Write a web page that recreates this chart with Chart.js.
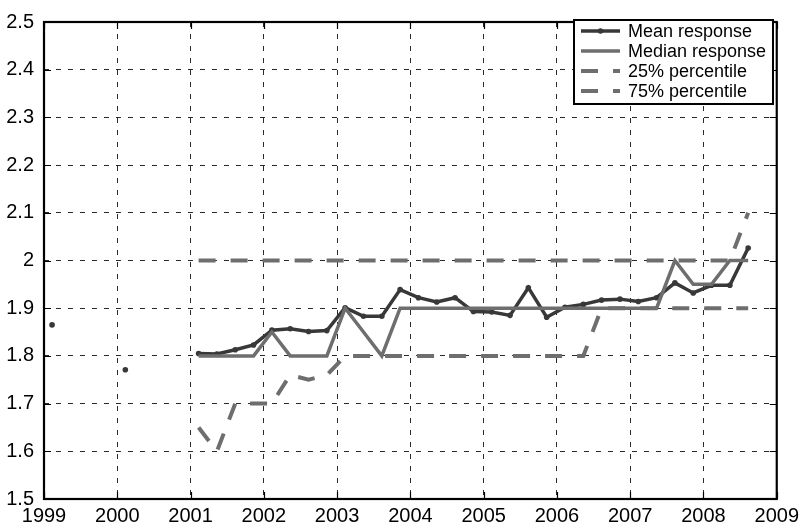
<!DOCTYPE html>
<html>
<head>
<meta charset="utf-8">
<script src="https://cdn.jsdelivr.net/npm/chart.js@4.4.0/dist/chart.umd.min.js"></script>
<style>
  html, body { margin: 0; padding: 0; background: #fff; }
  #wrap { width: 804px; height: 530px; }
</style>
</head>
<body>
<div id="wrap"><canvas id="chart" width="804" height="530"></canvas></div>
<script>
// Survey quarters, as decimal years
const quarters = [
  1999.11, 1999.36, 1999.61, 1999.86,
  2000.11, 2000.36, 2000.61, 2000.86,
  2001.11, 2001.36, 2001.61, 2001.86,
  2002.11, 2002.36, 2002.61, 2002.86,
  2003.11, 2003.36, 2003.61, 2003.86,
  2004.11, 2004.36, 2004.61, 2004.86,
  2005.11, 2005.36, 2005.61, 2005.86,
  2006.11, 2006.36, 2006.61, 2006.86,
  2007.11, 2007.36, 2007.61, 2007.86,
  2008.11, 2008.36, 2008.61
];

// Quarterly summary statistics of the response (null = no survey that quarter)
const meanResponse = [
  1.865, null, null, null,
  1.771, null, null, null,
  1.805, 1.804, 1.813, 1.823,
  1.854, 1.857, 1.851, 1.853,
  1.901, 1.883, 1.883, 1.939,
  1.922, 1.913, 1.922, 1.893,
  1.892, 1.885, 1.943, 1.881,
  1.902, 1.908, 1.917, 1.919,
  1.914, 1.922, 1.953, 1.932,
  1.948, 1.948, 2.026
];
const medianResponse = [
  null, null, null, null,
  null, null, null, null,
  1.80, 1.80, 1.80, 1.80,
  1.85, 1.80, 1.80, 1.80,
  1.90, 1.85, 1.80, 1.90,
  1.90, 1.90, 1.90, 1.90,
  1.90, 1.90, 1.90, 1.90,
  1.90, 1.90, 1.90, 1.90,
  1.90, 1.90, 2.00, 1.95,
  1.95, 2.00, 2.00
];
const percentile25 = [
  null, null, null, null,
  null, null, null, null,
  1.65, 1.60, 1.70, 1.70,
  1.70, 1.76, 1.75, 1.76,
  1.80, 1.80, 1.80, 1.80,
  1.80, 1.80, 1.80, 1.80,
  1.80, 1.80, 1.80, 1.80,
  1.80, 1.80, 1.90, 1.90,
  1.90, 1.90, 1.90, 1.90,
  1.90, 1.90, 1.90
];
const percentile75 = [
  null, null, null, null,
  null, null, null, null,
  2.00, 2.00, 2.00, 2.00,
  2.00, 2.00, 2.00, 2.00,
  2.00, 2.00, 2.00, 2.00,
  2.00, 2.00, 2.00, 2.00,
  2.00, 2.00, 2.00, 2.00,
  2.00, 2.00, 2.00, 2.00,
  2.00, 2.00, 2.00, 2.00,
  2.00, 2.00, 2.10
];

const seriesLabels = ['Mean response', 'Median response', '25% percentile', '75% percentile'];

const FONT = "'Liberation Sans', Arial, Helvetica, sans-serif";
const DARK = '#383838';
const GREY = '#6e6e6e';

const toPoints = values => quarters.map((q, i) => ({ x: q, y: values[i] }));

// Axis box with inward tick marks on all four sides
const framePlugin = {
  id: 'frame',
  afterDatasetsDraw(chart) {
    const { ctx, chartArea: a, scales } = chart;
    const tick = 7;
    ctx.save();
    ctx.strokeStyle = '#000';
    ctx.lineWidth = 1.2;
    ctx.beginPath();
    scales.x.ticks.forEach(t => {
      const px = Math.round(scales.x.getPixelForValue(t.value)) + 0.5;
      ctx.moveTo(px, a.bottom); ctx.lineTo(px, a.bottom - tick);
      ctx.moveTo(px, a.top); ctx.lineTo(px, a.top + tick);
    });
    scales.y.ticks.forEach(t => {
      const py = Math.round(scales.y.getPixelForValue(t.value)) + 0.5;
      ctx.moveTo(a.left, py); ctx.lineTo(a.left + tick, py);
      ctx.moveTo(a.right, py); ctx.lineTo(a.right - tick, py);
    });
    ctx.stroke();
    ctx.lineWidth = 2.2;
    ctx.strokeRect(a.left, a.top, a.right - a.left, a.bottom - a.top);
    ctx.restore();
  }
};

// Framed legend in the upper-right corner of the plot
const boxedLegendPlugin = {
  id: 'boxedLegend',
  afterDraw(chart, args, opts) {
    const { ctx } = chart;
    const { left, top, width, height, rowTop, rowGap, sampleStart, sampleEnd, textX } = opts;
    ctx.save();
    ctx.fillStyle = '#fff';
    ctx.fillRect(left, top, width, height);
    ctx.strokeStyle = '#000';
    ctx.lineWidth = 2;
    ctx.strokeRect(left, top, width, height);
    chart.data.datasets.forEach((ds, i) => {
      const y = top + rowTop + i * rowGap;
      ctx.save();
      ctx.strokeStyle = ds.borderColor;
      ctx.lineWidth = ds.borderWidth;
      ctx.lineCap = 'butt';
      ctx.setLineDash(ds.borderDash || []);
      ctx.beginPath();
      ctx.moveTo(left + sampleStart, y);
      ctx.lineTo(left + sampleEnd, y);
      ctx.stroke();
      if (ds.pointRadius > 0) {
        ctx.fillStyle = ds.borderColor;
        ctx.beginPath();
        ctx.arc(left + (sampleStart + sampleEnd) / 2, y, ds.pointRadius, 0, Math.PI * 2);
        ctx.fill();
      }
      ctx.restore();
      ctx.fillStyle = '#000';
      ctx.font = '18px ' + FONT;
      ctx.textBaseline = 'middle';
      ctx.textAlign = 'left';
      ctx.fillText(ds.label, left + textX, y + 1);
    });
    ctx.restore();
  }
};

new Chart(document.getElementById('chart'), {
  type: 'line',
  data: {
    datasets: [
      {
        label: seriesLabels[0], data: toPoints(meanResponse),
        borderColor: DARK, backgroundColor: DARK, borderWidth: 3.5,
        pointRadius: 2.8, pointBorderWidth: 0, pointBackgroundColor: DARK,
        order: 4
      },
      {
        label: seriesLabels[1], data: toPoints(medianResponse),
        borderColor: GREY, borderWidth: 3.5, pointRadius: 0, order: 3
      },
      {
        label: seriesLabels[2], data: toPoints(percentile25),
        borderColor: GREY, borderWidth: 4, borderDash: [17, 15], pointRadius: 0, order: 2
      },
      {
        label: seriesLabels[3], data: toPoints(percentile75),
        borderColor: GREY, borderWidth: 4, borderDash: [17, 15], pointRadius: 0, order: 1
      }
    ]
  },
  options: {
    responsive: false,
    devicePixelRatio: 1,
    animation: false,
    spanGaps: false,
    layout: { padding: { top: 14, right: 24, left: 0, bottom: 0 } },
    elements: { line: { tension: 0, borderCapStyle: 'butt', borderJoinStyle: 'miter' } },
    plugins: {
      legend: { display: false },
      tooltip: { enabled: false },
      boxedLegend: {
        left: 574, top: 20, width: 199, height: 84,
        rowTop: 11, rowGap: 20, sampleStart: 7, sampleEnd: 46, textX: 54
      }
    },
    scales: {
      x: {
        type: 'linear', min: 1999, max: 2009,
        ticks: {
          stepSize: 1, color: '#000', padding: 5,
          font: { family: FONT, size: 20 },
          callback: v => String(v)
        },
        grid: { color: '#2a2a2a', lineWidth: 1, drawTicks: false },
        border: { display: false, dash: [5, 7] },
        afterFit: s => { s.height = 31; }
      },
      y: {
        min: 1.5, max: 2.5,
        ticks: {
          stepSize: 0.1, color: '#000', padding: 10,
          font: { family: FONT, size: 20 },
          callback: v => String(Math.round(v * 10) / 10)
        },
        grid: { color: '#2a2a2a', lineWidth: 1, drawTicks: false },
        border: { display: false, dash: [5, 7] },
        afterFit: s => { s.width = 44; }
      }
    }
  },
  plugins: [framePlugin, boxedLegendPlugin]
});
</script>
</body>
</html>
